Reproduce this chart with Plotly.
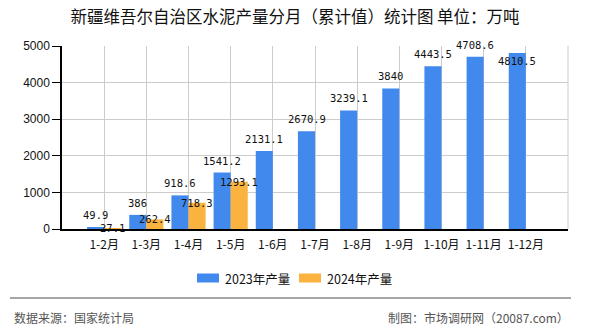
import plotly.graph_objects as go

# Cumulative cement output, Xinjiang (10k tonnes)
months = ["1-2月", "1-3月", "1-4月", "1-5月", "1-6月", "1-7月",
          "1-8月", "1-9月", "1-10月", "1-11月", "1-12月"]
output_2023 = [49.9, 386, 918.6, 1541.2, 2131.1, 2670.9,
               3239.1, 3840, 4443.5, 4708.6, 4810.5]
output_2024 = [27.1, 262.4, 718.3, 1293.1, None, None,
               None, None, None, None, None]
series_names = ["2023年产量", "2024年产量"]
y_ticks = [0, 1000, 2000, 3000, 4000, 5000]

BLUE = "#4289ee"
ORANGE = "#fbb33f"
CJK = "Noto Sans CJK SC"
MONO = "DejaVu Sans Mono"

W, H = 590, 330
L, R, T, B = 62, 22, 46, 101
PW, PH = W - L - R, H - T - B
Y_MAX = 5000
BAR_PX = 17


def px_x(px):
    return (px - L) / PW


def px_y(py):
    return (H - B - py) / PH


fig = go.Figure()
fig.add_trace(go.Bar(x=months, y=output_2023, name=series_names[0],
                     marker=dict(color=BLUE, line=dict(width=0))))
fig.add_trace(go.Bar(x=months, y=output_2024, name=series_names[1],
                     marker=dict(color=ORANGE, line=dict(width=0))))

annotations = []
# value labels: above the bar, or tucked inside when the bar reaches the top
for m, v in zip(months, output_2023):
    shift = 12 if v < 0.95 * Y_MAX else -8
    annotations.append(dict(x=m, y=v, xref="x", yref="y", text=f"{v:g}",
                            showarrow=False, xshift=-BAR_PX / 2, yshift=shift,
                            font=dict(family=MONO, size=10.5, color="#111")))
for m, v in zip(months, output_2024):
    if v is None:
        continue
    annotations.append(dict(x=m, y=v, xref="x", yref="y", text=f"{v:g}",
                            showarrow=False, xshift=BAR_PX / 2, yshift=0,
                            font=dict(family=MONO, size=10.5, color="#111")))

# legend drawn as swatches + labels
shapes = []
legend_items = [(197, series_names[0], BLUE), (299, series_names[1], ORANGE)]
for x0, name, col in legend_items:
    shapes.append(dict(type="rect", xref="paper", yref="paper",
                       x0=px_x(x0), x1=px_x(x0 + 22), y0=px_y(282.5), y1=px_y(273.5),
                       fillcolor=col, line=dict(width=0)))
    annotations.append(dict(x=px_x(x0 + 26), y=px_y(278), xref="paper", yref="paper",
                            text=name, showarrow=False, xanchor="left", yanchor="middle",
                            font=dict(family=CJK, size=12.5, color="#111")))

# right border of plot area
shapes.append(dict(type="line", xref="paper", yref="paper", x0=1, x1=1, y0=0, y1=1,
                   line=dict(color="#cccccc", width=1)))
# footer separator
shapes.append(dict(type="line", xref="paper", yref="paper",
                   x0=px_x(10), x1=px_x(571), y0=px_y(298), y1=px_y(298),
                   line=dict(color="#888888", width=1.5)))
annotations.append(dict(x=px_x(12), y=px_y(317), xref="paper", yref="paper",
                        text="数据来源：国家统计局", showarrow=False,
                        xanchor="left", yanchor="middle",
                        font=dict(family=CJK, size=12, color="#555")))
annotations.append(dict(x=px_x(571), y=px_y(317), xref="paper", yref="paper",
                        text="制图：市场调研网（20087.com）", showarrow=False,
                        xanchor="right", yanchor="middle",
                        font=dict(family=CJK, size=12, color="#555")))

fig.update_layout(
    width=W, height=H,
    margin=dict(l=L, r=R, t=T, b=B),
    paper_bgcolor="white", plot_bgcolor="white",
    barmode="group", bargap=0.19, bargroupgap=0,
    showlegend=False,
    title=dict(text="新疆维吾尔自治区水泥产量分月（累计值）统计图 单位：万吨",
               x=0.5, xref="container", xanchor="center",
               y=1 - 17 / H, yref="container", yanchor="middle",
               font=dict(family=CJK, size=16.5, color="#111")),
    annotations=annotations,
    shapes=shapes,
)
fig.update_xaxes(type="category", range=[-1, len(months)],
                 showgrid=True, gridcolor="#cccccc", gridwidth=1,
                 showline=True, linecolor="#000", linewidth=1.5,
                 ticks="", tickfont=dict(family=CJK, size=12, color="#111"),
                 ticklabelstandoff=4)
fig.update_yaxes(range=[0, Y_MAX], tickvals=y_ticks,
                 showgrid=True, gridcolor="#cccccc", gridwidth=1,
                 showline=True, linecolor="#000", linewidth=1.5,
                 ticks="outside", ticklen=8, tickcolor="#000",
                 zeroline=False,
                 tickfont=dict(family="Liberation Sans", size=12, color="#111"))

fig.write_html("out.html")
